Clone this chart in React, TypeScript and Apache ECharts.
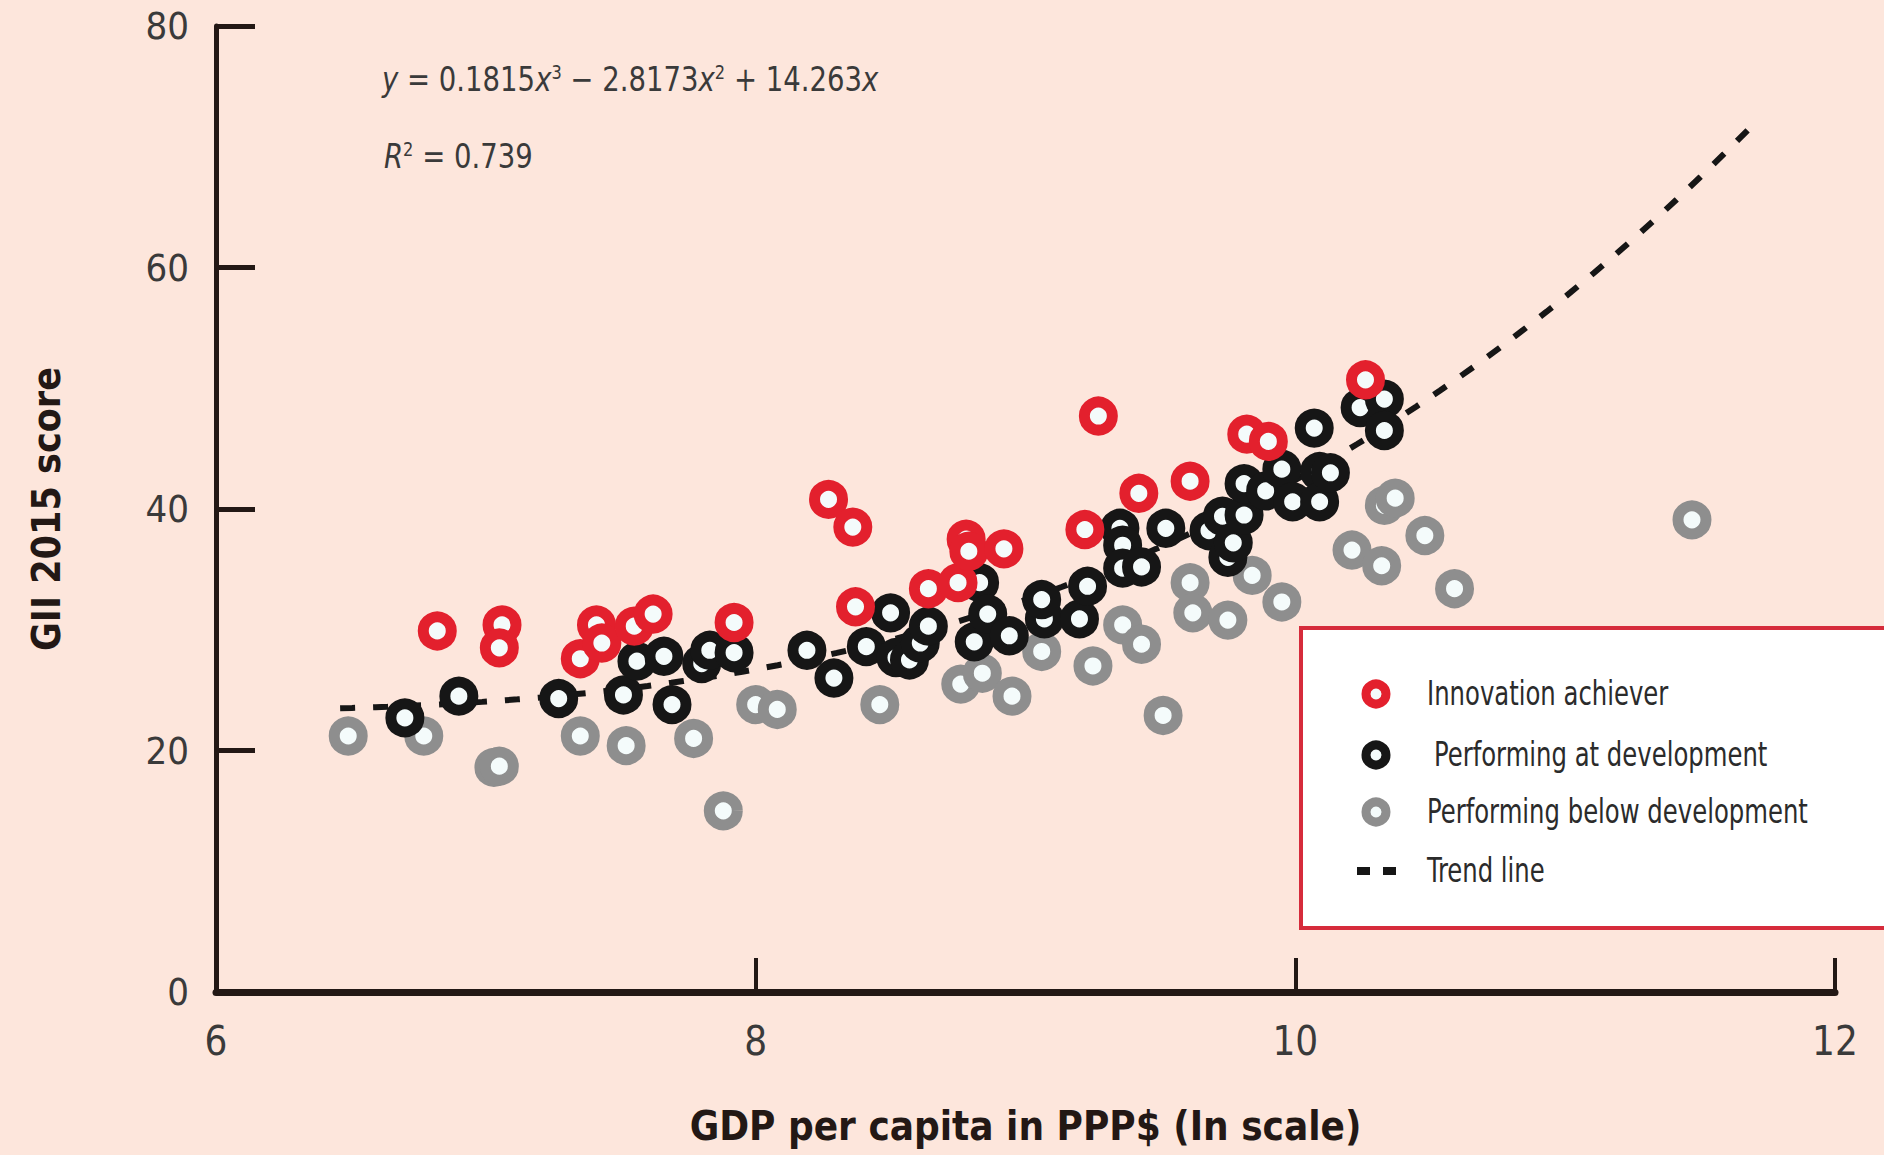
import React, { useEffect, useRef } from "react";
import * as echarts from "echarts";

// ---- Data ----
// [ln GDP per capita, GII 2015 score]
const innovationAchievers: [number, number][] = [
  [6.82, 29.9], [7.06, 30.4], [7.05, 28.5], [7.35, 27.6], [7.41, 30.4],
  [7.43, 28.9], [7.55, 30.3], [7.62, 31.3], [7.92, 30.6], [8.27, 40.8],
  [8.36, 38.5], [8.37, 31.9], [8.64, 33.4], [8.75, 33.9], [8.78, 37.5],
  [8.79, 36.5], [8.92, 36.7], [9.22, 38.3], [9.27, 47.7], [9.42, 41.3],
  [9.61, 42.3], [9.82, 46.2], [9.9, 45.6], [10.26, 50.7],
];

const performingAt: [number, number][] = [
  [6.7, 22.7], [6.9, 24.5], [7.27, 24.3], [7.51, 24.6], [7.56, 27.4],
  [7.66, 27.8], [7.69, 23.8], [7.8, 27.2], [7.83, 28.3], [7.92, 28.1],
  [8.19, 28.3], [8.29, 26.0], [8.41, 28.6], [8.5, 31.4], [8.52, 27.7],
  [8.57, 27.5], [8.61, 28.9], [8.64, 30.3], [8.81, 29.0], [8.83, 33.9],
  [8.86, 31.3], [8.94, 29.5], [9.07, 30.9], [9.06, 32.5], [9.2, 30.9],
  [9.23, 33.6], [9.35, 38.4], [9.36, 37.0], [9.36, 35.1], [9.43, 35.2],
  [9.52, 38.4], [9.68, 38.2], [9.73, 39.4], [9.75, 36.0], [9.77, 37.2],
  [9.81, 39.5], [9.81, 42.1], [9.89, 41.5], [9.95, 43.3], [9.99, 40.6],
  [10.07, 46.7], [10.09, 43.1], [10.09, 40.6], [10.13, 43.0], [10.24, 48.4],
  [10.33, 49.1], [10.33, 46.5],
];

const performingBelow: [number, number][] = [
  [6.49, 21.2], [6.77, 21.2], [7.03, 18.6], [7.05, 18.7], [7.35, 21.2],
  [7.52, 20.4], [7.77, 21.0], [7.88, 15.0], [8.0, 23.8], [8.08, 23.4],
  [8.46, 23.8], [8.76, 25.5], [8.84, 26.4], [8.95, 24.5], [9.06, 28.2],
  [9.25, 27.0], [9.36, 30.4], [9.43, 28.8], [9.51, 22.9], [9.61, 33.9],
  [9.62, 31.4], [9.75, 30.8], [9.84, 34.5], [9.95, 32.3], [10.21, 36.6],
  [10.32, 35.3], [10.33, 40.3], [10.37, 40.9], [10.48, 37.8], [10.59, 33.4],
  [11.47, 39.1],
];

// Trend line as printed on the chart: y = a*x^3 + b*x^2 + c*x
const trendCoefficients = [0.1815, -2.8173, 14.263];
const trendRange = [6.46, 11.72];

const xAxisRange = { min: 6, max: 12, interval: 2 };
const yAxisRange = { min: 0, max: 80, interval: 20 };

const seriesNames = [
  "Innovation achiever",
  "Performing at development",
  "Performing below development",
  "Trend line",
];

const xAxisTitle = "GDP per capita in PPP$ (In scale)";
const yAxisTitle = "GII 2015 score";

// ---- Styling ----
const BG = "#fde6dc";
const AXIS = "#231815";
const RED = "#e3202d";
const BLACK = "#161616";
const GREY = "#8e8e8e";
const HOLE = "#f4fbfb";
const FONT = "'DejaVu Sans Condensed', 'Liberation Sans Narrow', 'Roboto', sans-serif";

function buildTrend(): [number, number][] {
  const [a, b, c] = trendCoefficients;
  const pts: [number, number][] = [];
  const steps = 120;
  for (let i = 0; i <= steps; i++) {
    const x = trendRange[0] + ((trendRange[1] - trendRange[0]) * i) / steps;
    pts.push([x, a * x * x * x + b * x * x + c * x]);
  }
  return pts;
}

export default function App() {
  const ref = useRef<HTMLDivElement>(null);

  useEffect(() => {
    if (!ref.current) return;
    const chart = echarts.init(ref.current, undefined, { renderer: "svg" });

    const ring = (color: string) => ({
      color: HOLE,
      borderColor: color,
      borderWidth: 11,
      opacity: 1,
    });

    const legendY = [694, 755, 812, 871];
    const legendTextX = 1427;
    const legendColors = [RED, BLACK, GREY];

    const eqRich = {
      i: { fontStyle: "italic", fontFamily: FONT, fontSize: 34, fill: "#3a3a3a" },
      s: { fontFamily: FONT, fontSize: 20, fill: "#3a3a3a", verticalAlign: "top" },
    };

    const graphic: any[] = [
      {
        type: "text",
        x: 382,
        y: 62,
        scaleX: 0.9,
        z: 10,
        style: {
          text: "{i|y} = 0.1815{i|x}{s|3} − 2.8173{i|x}{s|2} + 14.263{i|x}",
          fontFamily: FONT,
          fontSize: 34,
          fill: "#3a3a3a",
          rich: eqRich,
        },
      },
      {
        type: "text",
        x: 384,
        y: 139,
        scaleX: 0.9,
        z: 10,
        style: {
          text: "{i|R}{s|2} = 0.739",
          fontFamily: FONT,
          fontSize: 34,
          fill: "#3a3a3a",
          rich: eqRich,
        },
      },
      {
        type: "rect",
        z: 20,
        shape: { x: 1301, y: 628, width: 640, height: 300 },
        style: { fill: "#ffffff", stroke: "#d62b3b", lineWidth: 4 },
      },
    ];

    legendColors.forEach((col, i) => {
      graphic.push({
        type: "circle",
        z: 21,
        shape: { cx: 1376, cy: legendY[i], r: 10 },
        style: { fill: HOLE, stroke: col, lineWidth: 9 },
      });
    });
    graphic.push({
      type: "rect",
      z: 21,
      shape: { x: 1357, y: 867, width: 13, height: 8 },
      style: { fill: BLACK },
    });
    graphic.push({
      type: "rect",
      z: 21,
      shape: { x: 1383, y: 867, width: 13, height: 8 },
      style: { fill: BLACK },
    });
    seriesNames.forEach((name, i) => {
      graphic.push({
        type: "text",
        z: 21,
        x: legendTextX + (i === 1 ? 7 : 0),
        y: legendY[i],
        scaleX: 0.82,
        style: {
          text: name,
          fontFamily: FONT,
          fontSize: 33,
          fill: "#2b2b2b",
          verticalAlign: "middle",
          align: "left",
        },
      });
    });

    chart.setOption({
      animation: false,
      backgroundColor: BG,
      grid: { left: 216, right: 49, top: 26, bottom: 163, containLabel: false },
      xAxis: {
        type: "value",
        min: xAxisRange.min,
        max: xAxisRange.max,
        interval: xAxisRange.interval,
        axisLine: { show: true, onZero: false, lineStyle: { color: AXIS, width: 7 } },
        axisTick: { show: true, inside: true, length: 34, lineStyle: { color: AXIS, width: 4 } },
        axisLabel: { fontFamily: FONT, fontSize: 40, lineHeight: 34, color: "#3a3a3a", margin: 32 },
        splitLine: { show: false },
        name: xAxisTitle,
        nameLocation: "middle",
        nameGap: 114,
        nameTextStyle: { fontFamily: FONT, fontSize: 40, fontWeight: "bold", color: AXIS },
      },
      yAxis: {
        type: "value",
        min: yAxisRange.min,
        max: yAxisRange.max,
        interval: yAxisRange.interval,
        axisLine: { show: true, onZero: false, lineStyle: { color: AXIS, width: 5 } },
        axisTick: { show: true, inside: true, length: 39, lineStyle: { color: AXIS, width: 5 } },
        axisLabel: { fontFamily: FONT, fontSize: 38, lineHeight: 32, color: "#3a3a3a", margin: 27 },
        splitLine: { show: false },
        name: yAxisTitle,
        nameLocation: "middle",
        nameGap: 150,
        nameTextStyle: { fontFamily: FONT, fontSize: 39, fontWeight: "bold", color: AXIS },
      },
      graphic,
      series: [
        {
          name: seriesNames[3],
          type: "line",
          data: buildTrend(),
          showSymbol: false,
          symbol: "none",
          smooth: false,
          silent: true,
          z: 2,
          lineStyle: { color: BLACK, width: 6, type: [15, 18] },
        },
        {
          name: seriesNames[2],
          type: "scatter",
          data: performingBelow,
          symbol: "circle",
          symbolSize: 28,
          z: 3,
          itemStyle: ring(GREY),
        },
        {
          name: seriesNames[1],
          type: "scatter",
          data: performingAt,
          symbol: "circle",
          symbolSize: 28,
          z: 4,
          itemStyle: ring(BLACK),
        },
        {
          name: seriesNames[0],
          type: "scatter",
          data: innovationAchievers,
          symbol: "circle",
          symbolSize: 28,
          z: 5,
          itemStyle: ring(RED),
        },
      ],
    });

    return () => chart.dispose();
  }, []);

  return (
    <div
      ref={ref}
      style={{ position: "absolute", left: 0, top: 0, width: 1884, height: 1155 }}
    />
  );
}
